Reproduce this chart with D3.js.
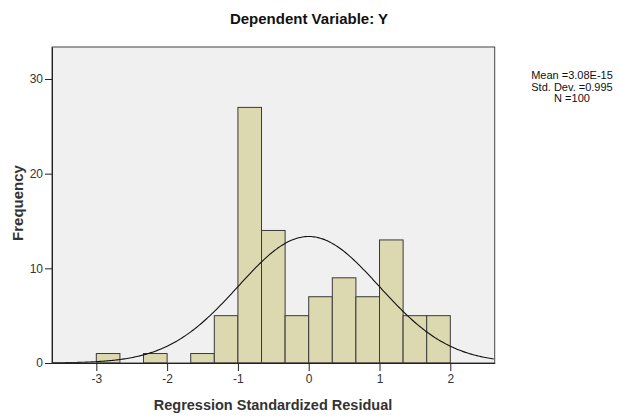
<!DOCTYPE html>
<html><head><meta charset="utf-8">
<script src="https://cdn.jsdelivr.net/npm/d3@7"></script>
<style>body{margin:0;background:#fff}svg{display:block}text{font-family:Arial,"Liberation Sans",sans-serif}</style>
</head><body>
<svg id="c" width="619" height="419"></svg>
<script>
const binStarts = [-3, -2.3333, -1.6667, -1.3333, -1, -0.6667, -0.3333, 0, 0.3333, 0.6667, 1, 1.3333, 1.6667];
const binWidth = 1/3;
const counts = [1, 1, 1, 5, 27, 14, 5, 7, 9, 7, 13, 5, 5];
const xTicks = [-3, -2, -1, 0, 1, 2];
const yTicks = [0, 10, 20, 30];
const stats = {mean: 3.08e-15, sd: 0.995, n: 100};
const legendLines = ["Mean =3.08E-15", "Std. Dev. =0.995", "N =100"];

const svg = d3.select("#c");
const L = 52, R = 494.7, T = 47, B = 363;
const x = d3.scaleLinear().domain([-3.626, 2.627]).range([L, R]);
const y = d3.scaleLinear().domain([0, 33.38]).range([B, T]);

svg.append("rect").attr("x", L).attr("y", T).attr("width", R - L).attr("height", B - T).attr("fill", "#f0f0f0");

svg.append("g").selectAll("rect").data(counts).join("rect")
  .attr("x", (d, i) => x(binStarts[i]))
  .attr("y", d => y(d))
  .attr("width", (d, i) => x(binStarts[i] + binWidth) - x(binStarts[i]))
  .attr("height", d => y(0) - y(d))
  .attr("fill", "#dcd8b0").attr("stroke", "#3a3a3a").attr("stroke-width", 1);

// normal curve
const pts = d3.range(x.domain()[0], x.domain()[1] + 0.001, 0.02).map(v => [v,
  stats.n * binWidth / (stats.sd * Math.sqrt(2 * Math.PI)) * Math.exp(-0.5 * Math.pow((v - stats.mean) / stats.sd, 2))]);
svg.append("path").datum(pts)
  .attr("d", d3.line().x(d => x(d[0])).y(d => y(d[1])).curve(d3.curveBasis))
  .attr("fill", "none").attr("stroke", "#111").attr("stroke-width", 1.1);

// frame
svg.append("rect").attr("x", L).attr("y", T).attr("width", R - L).attr("height", B - T)
  .attr("fill", "none").attr("stroke", "#444").attr("stroke-width", 1);

const fmt = d => String(d);
const xa = svg.append("g").attr("transform", `translate(0,${B})`)
  .call(d3.axisBottom(x).tickValues(xTicks).tickSize(8).tickSizeOuter(0).tickPadding(3).tickFormat(fmt));
const ya = svg.append("g").attr("transform", `translate(${L},0)`)
  .call(d3.axisLeft(y).tickValues(yTicks).tickSize(7).tickSizeOuter(0).tickPadding(2).tickFormat(fmt));
[xa, ya].forEach(a => {
  a.select(".domain").attr("stroke", "#222");
  a.selectAll(".tick line").attr("stroke", "#222");
  a.selectAll(".tick text").attr("fill", "#333").attr("font-size", 12).attr("font-family", "Arial, 'Liberation Sans', sans-serif");
});

svg.append("text").attr("x", 309).attr("y", 24).attr("text-anchor", "middle")
  .attr("font-size", 15).attr("font-weight", "bold").attr("fill", "#111").text("Dependent Variable: Y");
svg.append("text").attr("x", 273).attr("y", 410).attr("text-anchor", "middle")
  .attr("font-size", 14.5).attr("font-weight", "bold").attr("fill", "#333").text("Regression Standardized Residual");
svg.append("text").attr("transform", "translate(23,203) rotate(-90)").attr("text-anchor", "middle")
  .attr("font-size", 15).attr("font-weight", "bold").attr("fill", "#333").text("Frequency");

svg.append("g").selectAll("text").data(legendLines).join("text")
  .attr("x", 572).attr("y", (d, i) => 79 + i * 11.5).attr("text-anchor", "middle")
  .attr("font-size", 11).attr("fill", "#111").text(d => d);
</script>
</body></html>
